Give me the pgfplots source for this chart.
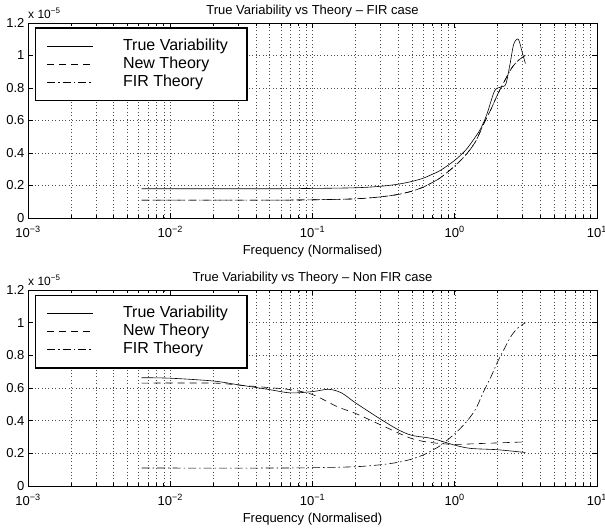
\documentclass[border=0pt]{standalone}
\usepackage{fontspec}
\setmainfont{Liberation Sans}
\usepackage{pgfplots}
\pgfplotsset{compat=1.18}

\pgfplotstableread{
f      v
0.00628 0.180
0.01   0.180
0.05   0.180
0.1    0.182
0.2    0.186
0.3    0.195
0.4    0.208
0.5    0.225
0.6    0.245
0.7    0.270
0.8    0.295
1.0    0.355
1.2    0.420
1.4    0.500
1.5    0.540
1.6    0.590
1.7    0.650
1.8    0.720
1.9    0.780
2.0    0.800
2.2    0.810
2.3    0.830
2.45   0.950
2.6    1.070
2.8    1.100
3.0    1.010
3.14   0.950
}\topTrue

\pgfplotstableread{
f      v
0.00628 0.110
0.05   0.110
0.1    0.112
0.2    0.118
0.3    0.130
0.4    0.145
0.5    0.165
0.6    0.190
0.7    0.220
0.8    0.250
1.0    0.320
1.2    0.390
1.4    0.470
1.6    0.580
1.8    0.670
2.0    0.760
2.2    0.830
2.5    0.920
2.8    0.970
3.14   1.000
}\firTheory

\pgfplotstableread{
f      v
0.00628 0.663
0.01   0.660
0.02   0.643
0.03   0.620
0.05   0.590
0.07   0.570
0.1    0.578
0.13   0.592
0.16   0.570
0.2    0.510
0.3    0.410
0.4    0.345
0.5    0.310
0.7    0.290
1.0    0.250
1.3    0.230
2.0    0.222
3.14   0.205
}\botTrue

\pgfplotstableread{
f      v
0.00628 0.630
0.02   0.630
0.03   0.618
0.05   0.602
0.07   0.590
0.1    0.560
0.15   0.485
0.2    0.445
0.3    0.375
0.5    0.290
0.7    0.265
1.0    0.255
1.5    0.260
3.14   0.270
}\botNew

\tikzset{
  dsh/.style={dash pattern=on 7pt off 5pt},
  dsd/.style={dash pattern=on 8pt off 3pt on 1.5pt off 3pt},
}

\pgfplotsset{
  every axis/.append style={
    scale only axis, width=569pt,
    xmin=1e-3, xmax=10, ymin=0, ymax=1.2,
    xtick={0.001,0.01,0.1,1,10},
    xticklabels={10\textsuperscript{−3},10\textsuperscript{−2},10\textsuperscript{−1},10\textsuperscript{0},10\textsuperscript{1}},
    minor xtick={0.002,0.003,0.004,0.005,0.006,0.007,0.008,0.009,
                 0.02,0.03,0.04,0.05,0.06,0.07,0.08,0.09,
                 0.2,0.3,0.4,0.5,0.6,0.7,0.8,0.9,
                 2,3,4,5,6,7,8,9},
    ytick={0,0.2,0.4,0.6,0.8,1,1.2},
    yticklabels={0,0.2,0.4,0.6,0.8,1,1.2},
    xmajorgrids, xminorgrids, ymajorgrids,
    grid style={black!70, line width=0.4pt, dash pattern=on 0.8pt off 2.6pt},
    minor grid style={black!70, line width=0.4pt, dash pattern=on 0.8pt off 2.6pt},
    tick style={black, line width=0.5pt},
    major tick length=5pt, minor tick length=3pt,
    axis line style={line width=0.7pt},
    tick label style={font=\fontsize{13}{15}\selectfont},
    xticklabel style={yshift=-5pt},
    xlabel={Frequency (Normalised)},
    xlabel style={font=\fontsize{13}{15}\selectfont, yshift=-1pt},
    title style={font=\fontsize{13}{15}\selectfont, yshift=-4pt},
    legend style={at={(0.0123,0.977)}, anchor=north west,
      font=\fontsize{16}{18}\selectfont, draw=black, line width=1.5pt,
      row sep=3.5pt, inner xsep=11pt, inner ysep=11pt,
      nodes={inner sep=0pt, text height=11.5pt, text depth=3pt}},
    legend cell align=left,
  },
  legend image code/.code={
    \draw[#1, line width=0.6pt] (0pt,0pt) -- (46pt,0pt);
    \path[draw=none] (0pt,0pt) -- (76pt,0pt);},
}

\begin{document}
\begin{tikzpicture}
\begin{semilogxaxis}[name=top, height=195pt, at={(28pt,313pt)}, anchor=south west,
  title={True Variability vs Theory – FIR case}]
\addplot[black, line width=0.6pt, smooth] table[x=f,y=v] {\topTrue};
\addplot[black, line width=0.6pt, smooth, dsh] table[x=f,y=v] {\firTheory};
\addplot[black, line width=0.6pt, smooth, dsd] table[x=f,y=v] {\firTheory};
\legend{True Variability\hspace*{8pt}, New Theory, FIR Theory}
\end{semilogxaxis}
\node[anchor=south west, font=\fontsize{12}{13}\selectfont, inner sep=0pt]
  at ([yshift=4.5pt]top.north west) {x 10\textsuperscript{−5}};
\begin{semilogxaxis}[name=bot, height=196pt, at={(28pt,45pt)}, anchor=south west,
  title={True Variability vs Theory – Non FIR case}]
\addplot[black, line width=0.6pt, smooth] table[x=f,y=v] {\botTrue};
\addplot[black, line width=0.6pt, smooth, dsh] table[x=f,y=v] {\botNew};
\addplot[black, line width=0.6pt, smooth, dsd] table[x=f,y=v] {\firTheory};
\legend{True Variability\hspace*{8pt}, New Theory, FIR Theory}
\end{semilogxaxis}
\node[anchor=south west, font=\fontsize{12}{13}\selectfont, inner sep=0pt]
  at ([yshift=4.5pt]bot.north west) {x 10\textsuperscript{−5}};
\pgfresetboundingbox
\path[use as bounding box] (0pt,0pt) rectangle (605pt,531pt);
\end{tikzpicture}
\end{document}
